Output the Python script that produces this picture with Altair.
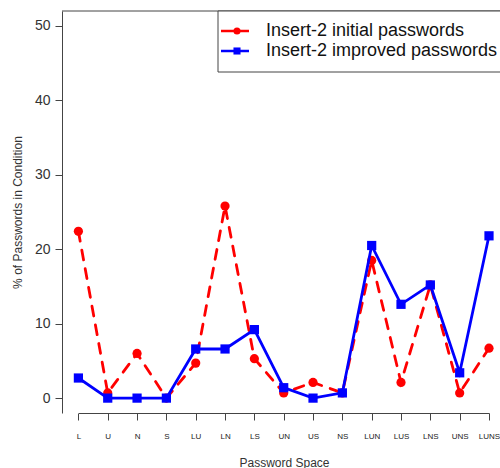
import altair as alt
import pandas as pd

# Password composition classes (L=lower, U=upper, N=digit, S=symbol)
spaces = ["L", "U", "N", "S", "LU", "LN", "LS", "UN", "US", "NS",
          "LUN", "LUS", "LNS", "UNS", "LUNS"]
initial_pct = [22.4, 0.7, 6.0, 0.0, 4.7, 25.8, 5.3, 0.7, 2.1, 0.7,
               18.5, 2.1, 15.2, 0.7, 6.7]
improved_pct = [2.7, 0.0, 0.0, 0.0, 6.6, 6.6, 9.2, 1.4, 0.0, 0.7,
                20.5, 12.6, 15.2, 3.4, 21.8]
series_names = ["Insert-2 initial passwords", "Insert-2 improved passwords"]
series_colors = ["#FF0000", "#0000FF"]
y_ticks = [0, 10, 20, 30, 40, 50]

FONT = "Liberation Sans"
W, H = 438, 402

df_init = pd.DataFrame({"space": spaces, "pct": initial_pct})
df_impr = pd.DataFrame({"space": spaces, "pct": improved_pct})

x_enc = alt.X(
    "space:N",
    sort=spaces,
    scale=alt.Scale(type="point", domain=spaces, range=[16.4, 427], padding=0),
    axis=alt.Axis(
        title="Password Space", labelAngle=0,
        grid=False, domainColor="#444", tickColor="#444", tickSize=7,
        labelFont=FONT, labelFontSize=8, labelColor="#222", labelPadding=12,
        labelOverlap=False,
        titleFont=FONT, titleFontSize=12, titleFontWeight="normal",
        titleColor="#333", titleX=222, titleY=49, titleBaseline="middle",
        titleAlign="center",
    ),
)
y_enc = alt.Y(
    "pct:Q",
    scale=alt.Scale(domain=[-2, 52], nice=False, zero=False),
    axis=alt.Axis(
        values=y_ticks, title="% of Passwords in Condition",
        grid=False, domainColor="#444", tickColor="#444", tickSize=7,
        labelFont=FONT, labelFontSize=14, labelColor="#333", labelPadding=5,
        labelFlush=False,
        titleFont=FONT, titleFontSize=12, titleFontWeight="normal",
        titleColor="#333", titleX=-45, titleY=201, titleAngle=-90,
        titleBaseline="middle", titleAlign="center",
    ),
)

red_line = alt.Chart(df_init).mark_line(
    color=series_colors[0], strokeWidth=2.8, strokeDash=[10, 9], strokeCap="round"
).encode(x=x_enc, y=y_enc)
red_pts = alt.Chart(df_init).mark_point(
    shape="circle", filled=True, opacity=1, size=85, color=series_colors[0]
).encode(x=alt.X("space:N", sort=spaces), y="pct:Q")
blue_line = alt.Chart(df_impr).mark_line(
    color=series_colors[1], strokeWidth=2.8
).encode(x=alt.X("space:N", sort=spaces), y="pct:Q")
blue_pts = alt.Chart(df_impr).mark_point(
    shape="square", filled=True, opacity=1, size=85, color=series_colors[1]
).encode(x=alt.X("space:N", sort=spaces), y="pct:Q")

one = pd.DataFrame({"k": [0]})

# Top edge of the plot frame
top_rule = alt.Chart(one).mark_rule(color="#444", strokeWidth=1).encode(
    x=alt.value(0), x2=alt.value(W + 2), y=alt.value(0)
)

# Legend box in the top-right corner
legend_box = alt.Chart(one).mark_rect(
    fill="white", stroke="#444", strokeWidth=1
).encode(x=alt.value(156), x2=alt.value(W + 2), y=alt.value(0), y2=alt.value(61))

legend_layers = [legend_box]
for i, (name, col, shp) in enumerate(zip(series_names, series_colors, ["circle", "square"])):
    ly = 20 + 20 * i
    row = pd.DataFrame({"label": [name]})
    legend_layers.append(
        alt.Chart(row).mark_rule(color=col, strokeWidth=2.5).encode(
            x=alt.value(159), x2=alt.value(187), y=alt.value(ly)
        )
    )
    legend_layers.append(
        alt.Chart(row).mark_point(
            shape=shp, filled=True, opacity=1, size=50, color=col
        ).encode(x=alt.value(175), y=alt.value(ly))
    )
    legend_layers.append(
        alt.Chart(row).mark_text(
            align="left", baseline="middle", font=FONT, fontSize=18, color="#111"
        ).encode(x=alt.value(204), y=alt.value(ly), text="label:N")
    )

chart = alt.layer(
    red_line, red_pts, blue_line, blue_pts, top_rule, *legend_layers
).properties(
    width=W, height=H,
    autosize=alt.AutoSizeParams(type="none"),
    padding={"left": 62, "top": 11, "right": 0, "bottom": 55},
    background="white",
).configure_view(stroke=None)

chart.save("out.html", embed_options={"renderer": "svg", "actions": False})
